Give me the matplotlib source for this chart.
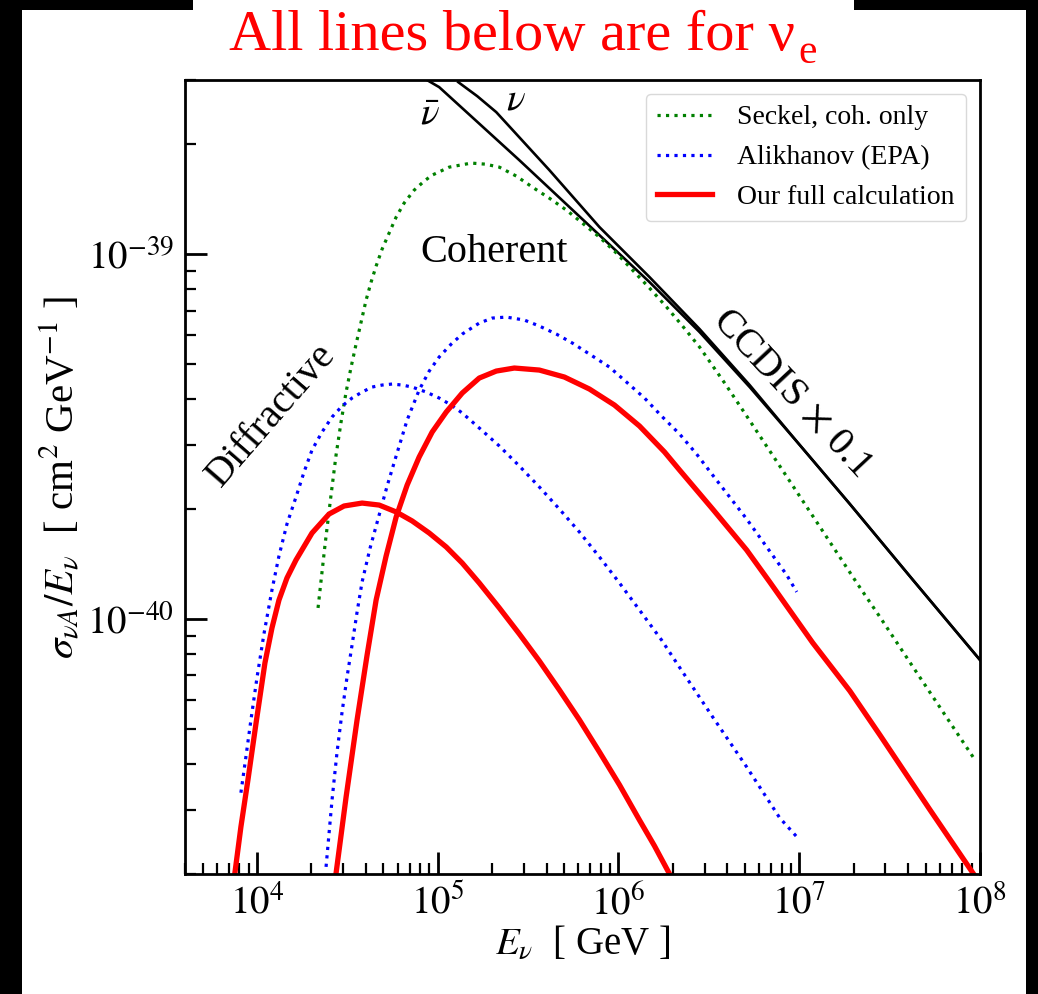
import matplotlib
matplotlib.use("Agg")
import matplotlib.pyplot as plt
from matplotlib.patches import Rectangle
import numpy as np

plt.rcParams["font.family"] = ["Liberation Serif", "DejaVu Serif"]
plt.rcParams["mathtext.fontset"] = "stix"

SCALE = 1e-40  # cross-section values below are in units of 1e-40 cm^2/GeV

# CCDIS x 0.1, neutrino and antineutrino
E_ccdis_nu = [1.299e5, 1.655e5, 2.109e5, 4.147e5, 7.848e5, 1.485e6, 2.811e6,
              5.318e6, 1.007e7, 1.905e7, 4.256e7, 1.0e8]
s_ccdis_nu = [29.6, 27.09, 24.49, 16.99, 11.86, 8.65, 6.23,
              4.376, 2.997, 2.066, 1.279, 0.772]
E_ccdis_nubar = [8.747e4, 1.019e5, 2.828e5, 7.848e5, 1.485e6, 2.811e6,
                 5.318e6, 1.007e7, 1.905e7, 4.256e7, 1.0e8]
s_ccdis_nubar = [29.97, 28.68, 18.09, 11.27, 8.381, 6.113,
                 4.321, 2.997, 2.066, 1.279, 0.772]

# Seckel, coherent only
E_seckel = [2.178e4, 2.380e4, 2.570e4, 2.740e4, 2.920e4, 3.113e4, 3.318e4, 3.536e4,
            3.769e4, 4.017e4, 4.281e4, 4.564e4, 4.926e4, 5.386e4, 5.890e4, 6.522e4,
            7.410e4, 8.418e4, 9.320e4, 1.158e5, 1.533e5, 1.833e5, 2.192e5, 2.722e5,
            3.339e5, 4.147e5, 5.152e5, 6.317e5, 7.848e5, 9.748e5, 1.196e6, 1.485e6,
            1.845e6, 2.263e6, 2.811e6, 3.867e6, 5.119e6, 7.798e6, 1.188e7, 2.083e7,
            2.793e7, 4.256e7, 6.566e7, 9.38e7]
s_seckel = [1.072, 1.595, 2.186, 2.814, 3.465, 4.187, 4.901, 5.667,
            6.512, 7.482, 8.381, 9.271, 10.32, 11.42, 12.63, 13.80,
            14.97, 15.85, 16.46, 17.31, 17.76, 17.64, 17.31, 16.36,
            15.26, 14.23, 13.20, 12.16, 11.13, 10.06, 9.04, 8.070,
            7.16, 6.350, 5.56, 4.432, 3.599, 2.626, 1.915, 1.255,
            1.013, 0.739, 0.5355, 0.411]

# Alikhanov (EPA), coherent
E_alik_coh = [2.412e4, 2.603e4, 2.775e4, 2.958e4, 3.152e4, 3.360e4, 3.581e4, 3.817e4,
              4.227e4, 4.743e4, 5.251e4, 5.890e4, 6.776e4, 7.898e4, 8.976e4, 1.019e5,
              1.188e5, 1.367e5, 1.698e5, 2.004e5, 2.397e5, 3.015e5, 3.650e5, 4.535e5,
              5.562e5, 6.909e5, 8.916e5, 1.107e6, 1.393e6, 1.730e6, 2.178e6, 2.704e6,
              3.318e6, 4.121e6, 5.119e6, 6.607e6, 8.527e6, 9.685e6]
s_alik_coh = [0.2092, 0.3192, 0.432, 0.556, 0.694, 0.849, 1.045, 1.263,
              1.565, 1.927, 2.314, 2.797, 3.510, 4.241, 4.780, 5.223,
              5.667, 6.036, 6.471, 6.678, 6.720, 6.595, 6.350, 6.036,
              5.703, 5.321, 4.901, 4.460, 4.032, 3.599, 3.213, 2.832,
              2.480, 2.159, 1.879, 1.575, 1.320, 1.186]

# Alikhanov (EPA), diffractive
E_alik_dif = [8.153e3, 8.690e3, 9.264e3, 1.000e4, 1.0935e4, 1.211e4, 1.324e4, 1.466e4,
              1.645e4, 1.822e4, 2.017e4, 2.291e4, 2.603e4, 2.958e4, 3.360e4, 3.817e4,
              4.337e4, 4.926e4, 5.596e4, 6.357e4, 7.224e4, 8.637e4, 1.019e5, 1.188e5,
              1.367e5, 1.698e5, 2.192e5, 2.828e5, 3.650e5, 4.711e5, 6.080e5, 7.848e5,
              1.013e6, 1.307e6, 1.730e6, 2.263e6, 3.318e6, 5.119e6, 7.798e6, 9.685e6]
s_alik_dif = [0.334, 0.419, 0.529, 0.689, 0.910, 1.201, 1.488, 1.821,
              2.159, 2.527, 2.904, 3.253, 3.576, 3.833, 4.032, 4.187,
              4.321, 4.376, 4.404, 4.376, 4.321, 4.187, 4.032, 3.857,
              3.668, 3.337, 2.979, 2.626, 2.300, 2.001, 1.731, 1.479,
              1.255, 1.058, 0.876, 0.716, 0.539, 0.393, 0.285, 0.253]

# Full calculation, diffractive
E_full_dif = [7.553e3, 8.153e3, 8.916e3, 9.873e3, 1.1074e4, 1.211e4, 1.324e4, 1.466e4,
              1.645e4, 2.017e4, 2.506e4, 3.034e4, 3.817e4, 4.743e4, 5.890e4, 7.224e4,
              8.976e4, 1.115e5, 1.367e5, 1.698e5, 2.192e5, 2.828e5, 3.650e5, 4.711e5,
              6.080e5, 7.848e5, 1.013e6, 1.307e6, 1.582e6, 1.917e6]
s_full_dif = [0.2014, 0.2692, 0.362, 0.5158, 0.758, 0.9448, 1.127, 1.295,
              1.451, 1.720, 1.939, 2.040, 2.078, 2.052, 1.965, 1.856,
              1.720, 1.575, 1.423, 1.255, 1.072, 0.910, 0.767, 0.639,
              0.529, 0.432, 0.351, 0.281, 0.2388, 0.200]

# Full calculation, coherent
E_full_coh = [2.740e4, 3.113e4, 3.581e4, 4.069e4, 4.564e4, 5.184e4, 5.890e4, 6.776e4,
              7.898e4, 9.320e4, 1.115e5, 1.367e5, 1.698e5, 2.109e5, 2.654e5, 3.650e5,
              5.022e5, 6.909e5, 9.502e5, 1.307e6, 1.798e6, 2.178e6, 3.318e6, 5.119e6,
              6.864e6, 1.188e7, 1.905e7, 2.793e7, 5.284e7, 9.15e7]
s_full_coh = [0.201, 0.325, 0.529, 0.797, 1.127, 1.488, 1.903, 2.328,
              2.779, 3.253, 3.691, 4.161, 4.574, 4.780, 4.872, 4.810,
              4.603, 4.267, 3.857, 3.379, 2.868, 2.559, 2.001, 1.545,
              1.263, 0.860, 0.635, 0.481, 0.300, 0.201]

x_ticks = [1e4, 1e5, 1e6, 1e7, 1e8]
x_ticklabels = [r"$10^{4}$", r"$10^{5}$", r"$10^{6}$", r"$10^{7}$", r"$10^{8}$"]
y_ticks = [1e-40, 1e-39]
y_ticklabels = [r"$10^{-40}$", r"$10^{-39}$"]

W, H = 1038, 994
fig = plt.figure(figsize=(W / 100, H / 100), dpi=100)
fig.patch.set_facecolor("black")
fig.add_artist(Rectangle((22 / W, 0), (1026 - 22) / W, (H - 10) / H,
                         transform=fig.transFigure, facecolor="white",
                         edgecolor="none", zorder=-10))
fig.add_artist(Rectangle((193 / W, 0.98), (854 - 193) / W, 0.03,
                         transform=fig.transFigure, facecolor="white",
                         edgecolor="none", zorder=-10))

ax = fig.add_axes([185 / W, (H - 874) / H, (980 - 185) / W, (874 - 80) / H])
ax.set_xscale("log")
ax.set_yscale("log")


def sc(v):
    return np.asarray(v) * SCALE


ax.plot(E_ccdis_nu, sc(s_ccdis_nu), color="black", lw=1.9)
ax.plot(E_ccdis_nubar, sc(s_ccdis_nubar), color="black", lw=1.9)

ax.plot(E_seckel, sc(s_seckel), color="green", ls=":", lw=2.3,
        label="Seckel, coh. only")
ax.plot(E_alik_coh, sc(s_alik_coh), color="blue", ls=":", lw=2.3,
        label="Alikhanov (EPA)")
ax.plot(E_alik_dif, sc(s_alik_dif), color="blue", ls=":", lw=2.3)
ax.plot(E_full_coh, sc(s_full_coh), color="red", lw=3.8,
        label="Our full calculation")
ax.plot(E_full_dif, sc(s_full_dif), color="red", lw=3.8)

ax.set_xlim(4e3, 1e8)
ax.set_ylim(2e-41, 3e-39)

ax.set_xticks(x_ticks)
ax.set_xticklabels(x_ticklabels)
ax.set_yticks(y_ticks)
ax.set_yticklabels(y_ticklabels)
ax.tick_params(which="major", direction="in", length=16, width=2,
               labelsize=28, pad=8)
ax.tick_params(which="minor", direction="in", length=8, width=1.6)
for sp in ax.spines.values():
    sp.set_linewidth(2)

ax.set_xlabel(r"$E_\nu$  [ GeV ]", fontsize=28, labelpad=2)
ax.set_ylabel(r"$\sigma_{\nu A}/E_\nu$  [ cm$^2$ GeV$^{-1}$ ]", fontsize=29.5,
              labelpad=4)

leg = ax.legend(loc="upper right", fontsize=20, labelspacing=0.52,
                handlelength=2.0, handletextpad=0.9, borderpad=0.4,
                fancybox=True, framealpha=1.0, edgecolor="0.85")

ax.text(0.389, 0.771, "Coherent", transform=ax.transAxes, fontsize=29,
        ha="center", va="baseline")
ax.text(0.109, 0.578, "Diffractive", transform=ax.transAxes, fontsize=29,
        ha="center", va="center", rotation=49, rotation_mode="anchor")
ax.text(0.763, 0.605, r"CCDIS$\,\times\,$0.1", transform=ax.transAxes,
        fontsize=29, ha="center", va="center", rotation=-47,
        rotation_mode="anchor")
ax.text(0.308, 0.956, r"$\bar{\nu}$", transform=ax.transAxes, fontsize=28,
        ha="center", va="center")
ax.text(0.4164, 0.975, r"$\nu$", transform=ax.transAxes, fontsize=28,
        ha="center", va="center")

# Title with an upright nu and a subscript e
title = fig.text(229 / W, 1 - 50 / H, "All lines below are for \u03bd",
                 color="red", fontsize=42, ha="left", va="baseline")
fig.canvas.draw()
bb = title.get_window_extent(renderer=fig.canvas.get_renderer())
fig.text((bb.x1 + 3) / W, 1 - 63 / H, "e", color="red", fontsize=30,
         ha="left", va="baseline")

fig.savefig("out.png", dpi=100, facecolor=fig.get_facecolor())
